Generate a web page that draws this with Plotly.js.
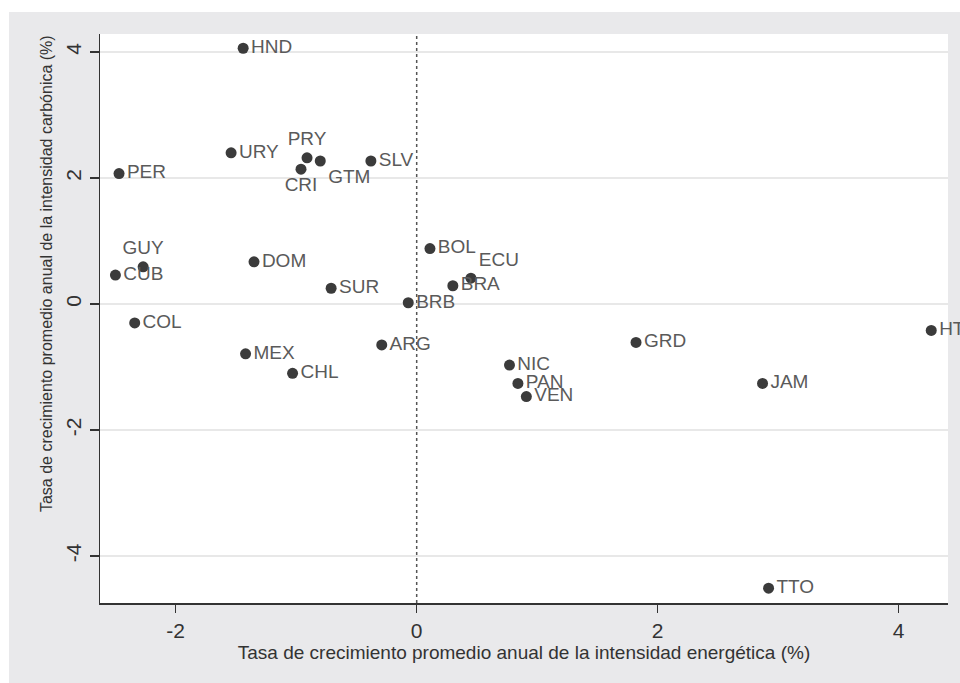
<!DOCTYPE html>
<html>
<head>
<meta charset="utf-8">
<script src="https://cdn.plot.ly/plotly-3.0.1.min.js"></script>
<style>
  html, body { margin: 0; padding: 0; background: #ffffff; width: 960px; height: 683px; overflow: hidden; }
  #chart { position: absolute; left: 9px; top: 12px; width: 951px; height: 671px; }
</style>
</head>
<body>
<div id="chart"></div>
<script>
// Country codes
const countries = ['HND','URY','PRY','GTM','CRI','SLV','PER','GUY','CUB','DOM','SUR','BRB','BOL','ECU','BRA','COL','ARG','MEX','CHL','NIC','PAN','VEN','GRD','JAM','TTO','HTI'];
// Average annual growth rate of energy intensity (%)
const energyIntensity = [-1.44,-1.54,-0.91,-0.80,-0.96,-0.38,-2.47,-2.27,-2.50,-1.35,-0.71,-0.07,0.11,0.45,0.30,-2.34,-0.29,-1.42,-1.03,0.77,0.84,0.91,1.82,2.87,2.92,4.27];
// Average annual growth rate of carbon intensity (%)
const carbonIntensity = [4.06,2.40,2.32,2.27,2.14,2.27,2.07,0.59,0.46,0.67,0.25,0.02,0.88,0.41,0.29,-0.30,-0.65,-0.79,-1.10,-0.97,-1.26,-1.47,-0.61,-1.26,-4.51,-0.42];
// Tick values
const xTicks = [-2, 0, 2, 4];
const yTicks = [-4, -2, 0, 2, 4];
// Axis titles
const xTitle = 'Tasa de crecimiento promedio anual de la intensidad energética (%)';
const yTitle = 'Tasa de crecimiento promedio anual de la intensidad carbónica (%)';

// label placement (style)
const labelPositions = countries.map(c => ({
  PRY: 'top center', CRI: 'bottom center', GUY: 'top center',
  GTM: 'bottom right', ECU: 'top right'
}[c] || 'middle right'));

const FONT = 'Liberation Sans, Arial, sans-serif';

const trace = {
  type: 'scatter',
  mode: 'markers+text',
  x: energyIntensity,
  y: carbonIntensity,
  text: countries,
  textposition: labelPositions,
  textfont: { family: FONT, size: 19, color: '#5a5a5a' },
  marker: { size: 11, color: '#3b3b3b' },
  cliponaxis: false,
  hoverinfo: 'text',
  showlegend: false
};

const layout = {
  width: 951, height: 671,
  margin: { l: 91, r: 12, t: 22, b: 80 },
  paper_bgcolor: '#e9e9eb',
  plot_bgcolor: '#ffffff',
  font: { family: FONT, color: '#333333' },
  showlegend: false,
  xaxis: {
    range: [-2.628, 4.409],
    tickvals: xTicks,
    ticktext: xTicks.map(String),
    tickfont: { family: FONT, size: 21, color: '#333333' },
    ticks: 'outside', ticklen: 8, tickcolor: '#333333', tickwidth: 1.2,
    showgrid: false, zeroline: false,
    showline: true, linecolor: '#333333', linewidth: 1.5,
    title: { text: xTitle, font: { family: FONT, size: 19, color: '#333333' }, standoff: 2 },
    automargin: false
  },
  yaxis: {
    range: [-4.746, 4.286],
    tickvals: yTicks,
    ticktext: yTicks.map(String),
    tickangle: -90,
    tickfont: { family: FONT, size: 21, color: '#333333' },
    ticks: 'outside', ticklen: 9, tickcolor: '#333333', tickwidth: 1.2,
    showgrid: true, gridcolor: '#e8e8e8', gridwidth: 2,
    zeroline: false,
    showline: true, linecolor: '#333333', linewidth: 1.5,
    automargin: false
  },
  annotations: [
    { text: yTitle, xref: 'paper', yref: 'paper', x: 0, y: 0.579,
      xshift: -53.5, xanchor: 'center', yanchor: 'middle', textangle: -90,
      showarrow: false, font: { family: FONT, size: 16, color: '#333333' } }
  ],
  shapes: [
    { type: 'line', xref: 'x', yref: 'paper', x0: 0, x1: 0, y0: 0, y1: 1,
      line: { color: '#555555', width: 1.5, dash: 'dot' }, layer: 'below' },
    { type: 'line', xref: 'paper', yref: 'y', x0: 0, x1: 1, y0: 0, y1: 0,
      line: { color: '#555555', width: 1.5, dash: 'dot' }, layer: 'below' }
  ]
};

Plotly.newPlot('chart', [trace], layout, { displayModeBar: false, staticPlot: true });
</script>
</body>
</html>
